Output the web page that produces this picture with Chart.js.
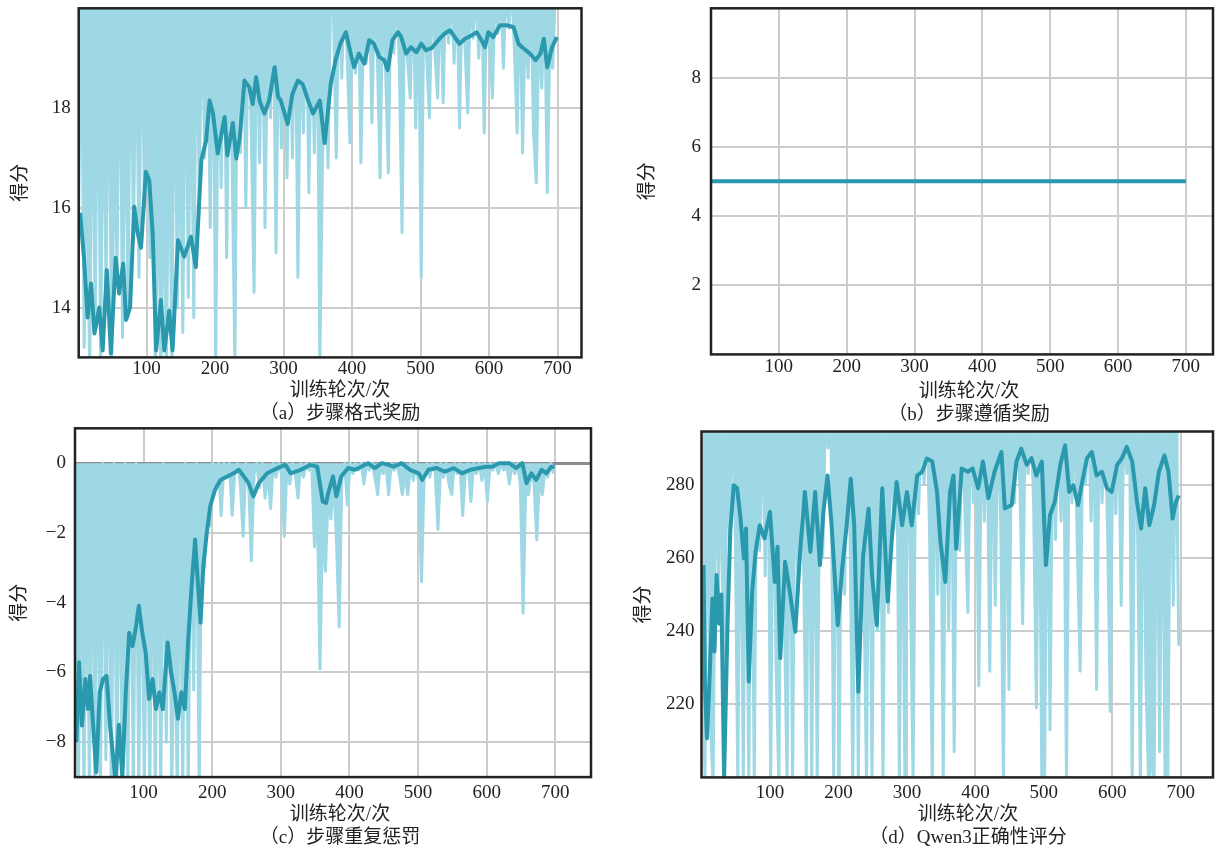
<!DOCTYPE html>
<html lang="zh">
<head>
<meta charset="UTF-8">
<title>训练得分曲线</title>
<script src="https://cdn.jsdelivr.net/npm/chart.js"></script>
<style>
  html, body { margin: 0; padding: 0; background: #fff; width: 1215px; height: 852px; overflow: hidden; }
  canvas { position: absolute; }
</style>
</head>
<body>
<canvas id="ca" width="680" height="425" style="left:0px;top:0px"></canvas>
<canvas id="cb" width="678" height="426" style="left:630px;top:0px"></canvas>
<canvas id="cc" width="680" height="429" style="left:0px;top:420px"></canvas>
<canvas id="cd" width="686" height="429" style="left:625px;top:420px"></canvas>
<script>
// ---- data ----
const xTicks = [100, 200, 300, 400, 500, 600, 700];
const xTitle = '训练轮次/次';
const yTitle = '得分';

// raw rewards are sampled every 4 training steps (1, 5, 9, ... 697)
const rawSteps = Array.from({ length: 175 }, (_, i) => 1 + 4 * i);

// (a) step format reward
const rawA = [
  15.9, 20.5, 13.2, 18.3, 12.5, 19.6, 13.6, 20.5, 12.8, 19.2,
  14.2, 20.5, 12.6, 17.5, 14.8, 20.5, 13.4, 19.0, 13.8, 20.5,
  15.3, 20.5, 14.6, 20.5, 16.0, 20.5, 15.0, 18.9, 12.5, 17.3,
  12.6, 16.8, 12.7, 18.5, 12.8, 20.5, 14.0, 18.2, 13.5, 20.5,
  14.2, 19.5, 13.8, 20.5, 16.2, 20.5, 17.0, 20.5, 15.6, 20.5,
  12.8, 19.8, 16.4, 20.5, 15.0, 19.5, 16.9, 12.9, 20.5, 17.1,
  20.5, 16.0, 20.5, 17.5, 14.3, 20.5, 16.9, 20.5, 15.6, 19.8,
  17.8, 20.5, 15.1, 19.9, 17.2, 20.5, 16.6, 19.9, 17.0, 20.5,
  14.6, 19.7, 17.5, 20.5, 16.3, 19.8, 17.1, 20.5, 12.9, 17.0,
  19.5, 16.8, 20.5, 19.8, 17.0, 20.5, 18.6, 20.5, 19.0, 17.3,
  20.5, 18.7, 20.5, 16.9, 19.9, 18.9, 20.5, 17.7, 20.5, 19.0,
  16.6, 20.5, 18.8, 16.7, 20.5, 19.1, 20.5, 18.9, 15.5, 20.5,
  19.0, 18.2, 20.5, 17.6, 20.5, 14.6, 20.5, 19.0, 17.8, 20.5,
  19.1, 18.2, 20.5, 18.1, 20.5, 19.3, 20.5, 18.9, 20.5, 17.6,
  20.5, 19.2, 17.9, 20.5, 19.4, 20.5, 19.0, 20.5, 17.5, 20.5,
  19.3, 18.2, 20.5, 19.5, 20.5, 18.8, 20.5, 19.6, 20.5, 19.2,
  17.5, 20.5, 17.1, 19.9, 18.6, 20.5, 17.5, 16.5, 19.8, 18.4,
  20.5, 16.3, 19.5, 18.8, 20.5
];
const smoothStepsA = [
  3, 9, 14, 19, 24, 31, 36, 42, 48, 55,
  60, 66, 70, 76, 82, 87, 92, 99, 104, 109,
  114, 121, 126, 133, 138, 146, 155, 165, 172, 180,
  187, 192, 197, 204, 214, 218, 226, 231, 236, 243,
  250, 255, 260, 265, 272, 279, 287, 292, 296, 306,
  313, 321, 328, 336, 343, 353, 360, 364, 369, 376,
  383, 391, 396, 403, 410, 418, 425, 432, 440, 447,
  452, 459, 467, 472, 479, 486, 494, 501, 508, 516,
  526, 535, 543, 550, 557, 565, 575, 582, 589, 594,
  599, 606, 616, 626, 636, 643, 650, 660, 668, 675,
  680, 685, 692, 699
];
const smoothA = [
  15.9, 14.95, 13.8, 14.48, 13.48, 14.0, 13.14, 14.75, 13.08, 15.0,
  14.28, 14.88, 13.75, 14.0, 16.02, 15.5, 15.2, 16.72, 16.55, 15.48,
  13.14, 14.15, 13.14, 13.93, 13.14, 15.35, 15.02, 15.42, 14.81, 16.95,
  17.35, 18.15, 17.89, 17.09, 17.82, 17.05, 17.7, 16.99, 17.4, 18.55,
  18.42, 18.08, 18.62, 18.15, 17.89, 18.15, 18.82, 18.22, 18.15, 17.68,
  18.28, 18.55, 18.48, 18.15, 17.89, 18.15, 17.3, 17.82, 18.49, 18.96,
  19.29, 19.52, 19.22, 18.82, 19.09, 18.89, 19.36, 19.29, 19.02, 18.96,
  18.76, 19.36, 19.52, 19.42, 19.09, 19.22, 19.12, 19.29, 19.16, 19.2,
  19.36, 19.49, 19.56, 19.42, 19.29, 19.39, 19.46, 19.52, 19.36, 19.22,
  19.52, 19.42, 19.66, 19.66, 19.62, 19.29, 19.2, 19.09, 18.96, 19.09,
  19.39, 18.82, 19.22, 19.42
];

// (b) step following reward: flat at 5
const stepsB = [1, 700];
const rawB = [5, 5];
const smoothB = [5, 5];

// (c) step repetition penalty
const rawC = [
  -0.3, -9.5, -0.5, -9.5, -1.0, -9.5, -0.2, -9.5, -0.3, -9.5,
  0, -8.5, -0.4, -9.5, 0, -9.5, -0.6, -9.5, 0, -9.5,
  -0.2, -9.5, 0, -9.5, -0.3, -9.5, -2.0, -9.5, -0.5, -9.5,
  -0.8, -9.5, 0, -8.0, -0.3, -9.5, -3.5, -9.5, -0.2, -9.5,
  0, -9.5, -0.3, -6.5, 0, -9.5, -0.2, -3.0, -0.1, -1.8,
  0, -0.8, 0, -1.5, 0, -0.4, 0, -1.5, -0.2, 0,
  -0.6, -2.1, 0, -0.5, -2.8, -0.3, 0, -0.7, 0, -1.0,
  -0.2, -1.3, 0, -0.4, 0, -0.3, -2.1, 0, -0.6, 0,
  -0.3, -1.0, 0, -0.4, 0, -0.2, 0, -2.4, -1.0, -5.9,
  -1.5, -3.1, -0.8, -1.6, -0.4, -2.2, -4.7, -0.3, 0, -1.2,
  0, -0.3, 0, -0.2, 0, -0.6, 0, -0.2, 0, -0.4,
  -0.9, 0, -0.3, 0, -0.9, 0, -0.2, 0, -0.4, -0.9,
  -0.3, -0.9, 0, -0.5, 0, -0.6, -3.4, -0.2, 0, -0.4,
  0, -0.3, -1.9, 0, -0.4, 0, -0.6, -0.9, 0, -0.3,
  0, -1.5, -0.2, 0, -1.1, 0, -0.3, 0, -0.5, 0,
  -1.1, 0, -0.2, 0, -0.3, 0, -0.2, 0, -0.6, 0,
  -0.3, 0, -0.6, -4.3, -0.5, -0.9, -0.2, -0.6, -2.2, -0.3,
  -0.9, -0.2, -0.4, 0, -0.3
];
const smoothStepsC = [
  2, 6, 10, 15, 19, 22, 26, 31, 36, 41,
  46, 51, 59, 64, 69, 74, 79, 84, 89, 93,
  98, 103, 108, 113, 118, 123, 128, 135, 140, 145,
  150, 155, 160, 165, 170, 175, 180, 183, 187, 192,
  197, 204, 212, 222, 231, 239, 246, 253, 260, 268,
  280, 290, 300, 307, 314, 329, 343, 353, 361, 366,
  369, 376, 381, 388, 398, 408, 417, 427, 437, 447,
  457, 464, 476, 488, 501, 506, 515, 527, 539, 552,
  564, 576, 589, 599, 608, 618, 633, 643, 652, 658,
  665, 672, 680, 687, 694, 699
];
const smoothC = [
  -8.0, -5.71, -7.52, -6.19, -7.05, -6.1, -7.4, -8.86, -6.57, -6.19,
  -6.1, -7.52, -9.1, -7.5, -9.0, -6.57, -4.86, -5.24, -4.67, -4.09,
  -4.86, -5.43, -6.76, -6.19, -7.05, -6.57, -7.05, -5.14, -6.0, -6.57,
  -7.33, -6.57, -7.05, -5.05, -3.52, -2.19, -3.71, -4.57, -2.95, -2.0,
  -1.24, -0.76, -0.48, -0.38, -0.29, -0.19, -0.38, -0.57, -0.95, -0.57,
  -0.29, -0.19, -0.1, -0.05, -0.29, -0.19, -0.05, -0.1, -1.1, -1.14,
  -0.86, -0.38, -0.95, -0.38, -0.14, -0.19, -0.1, 0, -0.14, 0,
  -0.05, -0.1, 0, -0.19, -0.29, -0.48, -0.19, -0.14, -0.24, -0.14,
  -0.29, -0.19, -0.14, -0.1, -0.1, 0, 0, -0.14, 0, -0.57,
  -0.29, -0.48, -0.19, -0.29, -0.1, -0.12
];

// (d) Qwen3 correctness score
const rawD = [
  258, 198, 300, 215, 198, 300, 250, 300, 198, 300,
  262, 300, 275, 198, 300, 198, 300, 198, 300, 198,
  300, 262, 300, 255, 300, 198, 300, 230, 198, 300,
  245, 198, 300, 198, 300, 250, 300, 262, 198, 300,
  198, 300, 198, 300, 260, 300, 290, 300, 198, 300,
  198, 300, 250, 300, 265, 198, 300, 198, 300, 255,
  198, 300, 198, 300, 240, 300, 198, 300, 245, 300,
  268, 300, 198, 300, 198, 300, 255, 198, 300, 272,
  300, 280, 300, 268, 198, 300, 250, 300, 198, 300,
  240, 300, 207, 300, 262, 300, 270, 245, 300, 275,
  300, 225, 300, 270, 300, 229, 300, 247, 300, 270,
  198, 300, 224, 300, 275, 300, 280, 242, 300, 283,
  300, 275, 219, 300, 198, 198, 300, 213, 300, 265,
  300, 270, 300, 198, 300, 275, 300, 262, 229, 300,
  280, 300, 270, 300, 224, 300, 275, 300, 268, 218,
  300, 272, 300, 247, 300, 283, 300, 198, 300, 265,
  198, 300, 227, 198, 206, 198, 300, 207, 300, 198,
  198, 300, 247, 300, 236
];
const smoothStepsD = [
  3, 5, 8, 11, 16, 19, 22, 26, 29, 33,
  38, 42, 47, 52, 57, 62, 65, 69, 74, 79,
  85, 92, 100, 107, 111, 115, 122, 129, 137, 144,
  151, 159, 166, 173, 178, 184, 190, 199, 205, 212,
  218, 223, 229, 236, 244, 249, 256, 264, 272, 278,
  285, 293, 300, 307, 315, 322, 329, 337, 344, 349,
  356, 363, 368, 372, 380, 389, 396, 404, 411, 419,
  428, 438, 443, 453, 460, 467, 475, 482, 489, 497,
  503, 509, 516, 524, 531, 537, 543, 550, 555, 563,
  570, 577, 585, 592, 599, 607, 614, 621, 629, 636,
  642, 648, 654, 661, 668, 676, 682, 688, 693, 697
];
const smoothD = [
  258, 225.3, 210.7, 223.4, 248.9, 234.4, 255.3, 242, 250, 200,
  241.6, 267.1, 279.8, 279, 270.7, 259.8, 268, 226.2, 250.7, 261.6,
  268.9, 265.3, 272.5, 253.4, 263, 232.6, 258.9, 250.7, 239.8, 261.6,
  278, 261.6, 278, 258, 272.5, 282.5, 268.9, 241.6, 256.2, 268.9,
  281.6, 268.9, 223.4, 260.7, 273.4, 255.3, 241.6, 279, 248, 265.3,
  280.7, 268.9, 278, 268.9, 282.5, 283.4, 287.1, 286.3, 278, 264.3,
  253.4, 278, 282.5, 262.5, 284.4, 283.5, 284.4, 279, 286.3, 276.3,
  283.5, 288.9, 273.5, 274.4, 286.3, 289.8, 285.4, 287.2, 282.5, 286.3,
  258, 271.7, 275.3, 285.4, 290.7, 278, 279.8, 274.4, 279.8, 287.2,
  288.9, 282.5, 283.5, 279, 278, 285.4, 287.2, 290.3, 286.3, 275.3,
  268, 279, 268.9, 274.4, 283.5, 288, 283.5, 270.7, 275.3, 277
];

// ---- styling ----
const RAW = '#9dd8e4';
const SMOOTH = '#2a99ae';
const GRID = '#cccccc';
const INK = '#222222';
const FONT = { family: "'Liberation Serif', 'Noto Sans CJK SC', serif", size: 19, lineHeight: 1.2, weight: 'normal' };

// black box round the plot area
const frame = {
  id: 'frame',
  afterDatasetsDraw(chart) {
    const { ctx, chartArea: a } = chart;
    ctx.save();
    ctx.strokeStyle = INK;
    ctx.lineWidth = 2.5;
    ctx.strokeRect(a.left, a.top, a.right - a.left, a.bottom - a.top);
    ctx.restore();
  }
};

function pts(xs, ys) {
  return xs.map((x, i) => ({ x: x, y: ys[i] }));
}

function panel(id, p) {
  new Chart(document.getElementById(id), {
    type: 'line',
    data: {
      datasets: [
        { data: pts(p.smX, p.sm), borderColor: SMOOTH, borderWidth: 4, borderJoinStyle: 'round',
          pointRadius: 0, fill: false, order: 0 },
        { data: pts(p.rawX, p.raw), borderColor: RAW, backgroundColor: RAW, borderWidth: 3, borderJoinStyle: 'round',
          pointRadius: 0, fill: p.fill, order: 1 }
      ]
    },
    options: {
      responsive: false,
      animation: false,
      events: [],
      layout: { padding: { top: p.padTop, left: 0, right: 0, bottom: 0 } },
      plugins: {
        legend: { display: false },
        tooltip: { enabled: false },
        filler: { propagate: false },
        subtitle: { display: true, position: 'bottom', text: xTitle, font: FONT, color: INK, padding: 0 },
        title: { display: true, position: 'bottom', text: p.caption, font: FONT, color: INK, padding: 0 }
      },
      scales: {
        x: {
          type: 'linear', min: p.xMin, max: p.xMax,
          grid: { color: GRID, lineWidth: 2, drawTicks: false },
          border: { display: false },
          ticks: { font: FONT, color: INK, padding: p.xPad, maxRotation: 0 },
          afterBuildTicks: s => { s.ticks = xTicks.map(v => ({ value: v })); },
          afterFit: s => { s.height = p.xH; s.paddingLeft = 0; s.paddingRight = 0; }
        },
        y: {
          type: 'linear', min: p.yMin, max: p.yMax,
          grid: {
            color: c => (p.zeroLine && c.tick && c.tick.value === 0) ? '#8c8c8c' : GRID,
            lineWidth: c => (p.zeroLine && c.tick && c.tick.value === 0) ? 3 : 2,
            drawTicks: false
          },
          border: { display: false },
          ticks: { font: FONT, color: INK, padding: p.yPad, callback: v => String(v).replace('-', '\u2212') },
          title: { display: true, text: yTitle, font: FONT, color: INK, padding: { top: p.yTitlePad, bottom: 0 } },
          afterBuildTicks: s => { s.ticks = p.yTicks.map(v => ({ value: v })); },
          afterFit: s => { s.width = p.yW; s.paddingTop = 0; s.paddingBottom = 0; }
        },
        yR: {
          position: 'right',
          grid: { display: false, drawTicks: false },
          border: { display: false },
          ticks: { display: false },
          afterFit: s => { s.width = p.rW; s.paddingTop = 0; s.paddingBottom = 0; }
        }
      }
    },
    plugins: [frame]
  });
}

panel('ca', {
  caption: '（a）步骤格式奖励', fill: 'end',
  rawX: rawSteps, raw: rawA, smX: smoothStepsA, sm: smoothA,
  xMin: 1, xMax: 735, yMin: 13, yMax: 20, yTicks: [14, 16, 18],
  padTop: 8.3, yW: 78.7, rW: 98.5, xH: 22, xPad: 0, yPad: 8, yTitlePad: 9.6
});
panel('cb', {
  caption: '（b）步骤遵循奖励', fill: false,
  rawX: stepsB, raw: rawB, smX: stepsB, sm: smoothB,
  xMin: 0, xMax: 740, yMin: 0, yMax: 10, yTicks: [2, 4, 6, 8],
  padTop: 8.3, yW: 81, rW: 95, xH: 26, xPad: 1, yPad: 10, yTitlePad: 7
});
panel('cc', {
  caption: '（c）步骤重复惩罚', fill: 'origin',
  rawX: rawSteps, raw: rawC, smX: smoothStepsC, sm: smoothC,
  xMin: 0, xMax: 752, yMin: -9, yMax: 1, yTicks: [-8, -6, -4, -2, 0], zeroLine: true,
  padTop: 8.3, yW: 75, rW: 89, xH: 26.3, xPad: 4.5, yPad: 9, yTitlePad: 9
});
panel('cd', {
  caption: '（d）Qwen3正确性评分', fill: 'end',
  rawX: rawSteps, raw: rawD, smX: smoothStepsD, sm: smoothD,
  xMin: 0, xMax: 747, yMin: 200, yMax: 294.5, yTicks: [220, 240, 260, 280],
  padTop: 11.5, yW: 76.5, rW: 98, xH: 26, xPad: 4.5, yPad: 7, yTitlePad: 8
});
</script>
</body>
</html>
